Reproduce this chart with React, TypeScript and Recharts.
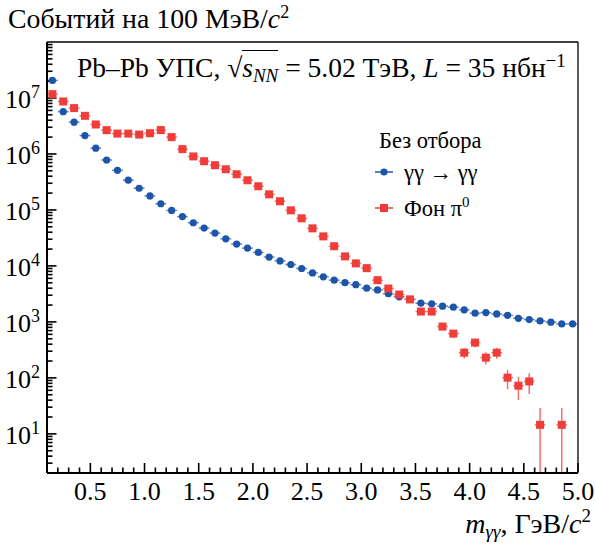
import React from 'react';
import { ScatterChart, Scatter, XAxis, YAxis, ErrorBar, ReferenceLine } from 'recharts';

const SERIF = '"Liberation Serif", "Times New Roman", serif';
const BLUE = '#1d55a8';
const RED = '#ef3d3a';

// bin centres, 100 MeV/c^2 wide
const massBins = [
  0.15, 0.25, 0.35, 0.45, 0.55, 0.65, 0.75, 0.85, 0.95, 1.05,
  1.15, 1.25, 1.35, 1.45, 1.55, 1.65, 1.75, 1.85, 1.95, 2.05,
  2.15, 2.25, 2.35, 2.45, 2.55, 2.65, 2.75, 2.85, 2.95, 3.05,
  3.15, 3.25, 3.35, 3.45, 3.55, 3.65, 3.75, 3.85, 3.95, 4.05,
  4.15, 4.25, 4.35, 4.45, 4.55, 4.65, 4.75, 4.85, 4.95,
];

// γγ → γγ signal
const ggCounts = [
  2.06e7, 5.7e6, 3.7e6, 2.13e6, 1.27e6, 7.8e5, 5.1e5, 3.4e5, 2.44e5, 1.78e5,
  1.29e5, 9.8e4, 7.6e4, 5.9e4, 4.75e4, 3.86e4, 3.05e4, 2.46e4, 2.08e4, 1.74e4,
  1.44e4, 1.23e4, 1.06e4, 9000, 7500, 6400, 5570, 5020, 4630, 4000,
  3720, 3190, 2810, 2540, 2160, 2100, 1910, 1830, 1640, 1430,
  1470, 1390, 1310, 1160, 1100, 1040, 990, 920, 920,
];

// π0 background (empty bins are null)
const pi0Counts = [
  1.17e7, 8.66e6, 6.59e6, 4.8e6, 3.36e6, 2.66e6, 2.31e6, 2.31e6, 2.22e6, 2.35e6,
  2.67e6, 2.0e6, 1.22e6, 9.04e5, 7.42e5, 6.29e5, 5.33e5, 4.34e5, 3.39e5, 2.65e5,
  1.9e5, 1.43e5, 9.84e4, 7.08e4, 4.69e4, 3.37e4, 2.25e4, 1.48e4, 1.11e4, 9120,
  5560, 3950, 3080, 2520, 1530, 1530, 826, 618, 282, 427,
  230, 282, 101, 72.5, 86.5, 14.5, null, 14.5, null,
];

// statistical errors on the background (0 where too small to show)
const pi0Errors = [
  0, 0, 0, 0, 0, 0, 0, 0, 0, 0,
  0, 0, 0, 0, 0, 0, 0, 0, 0, 0,
  0, 0, 0, 0, 0, 0, 0, 0, 0, 0,
  0, 0, 0, 0, 149, 149, 109, 95, 60, 75,
  57, 62, 38, 32, 35, 14.5, 0, 14.5, 0,
];

const xMajor = [0.5, 1.0, 1.5, 2.0, 2.5, 3.0, 3.5, 4.0, 4.5, 5.0];
const xMajorLabels = ['0.5', '1.0', '1.5', '2.0', '2.5', '3.0', '3.5', '4.0', '4.5', '5.0'];
const yDecades = [1, 2, 3, 4, 5, 6, 7];

const X_MIN = 0.1;
const X_MAX = 5.0;
const Y_MIN = 2;
const Y_MAX = 1e8;
const HALF_BIN = 0.05;

// minor ticks every 0.1 on x, 1..9 x 10^k on y
const xTicks: number[] = [];
for (let i = 2; i <= 50; i++) xTicks.push(i / 10);
const yTicks: number[] = [];
for (let k = 0; k < 8; k++) {
  for (let m = 1; m <= 9; m++) {
    const v = m * Math.pow(10, k);
    if (v > Y_MIN && v < Y_MAX) yTicks.push(v);
  }
}

const isMajorX = (v: number) => xMajor.some((t) => Math.abs(t - v) < 1e-6);
const decadeOf = (v: number) => {
  const exp = Math.round(Math.log10(v));
  return Math.abs(v - Math.pow(10, exp)) < 1e-6 * v && yDecades.includes(exp) ? exp : null;
};

const ggData = massBins.map((m, i) => ({ m, n: ggCounts[i], ex: HALF_BIN }));
const pi0Data = massBins
  .map((m, i) => {
    const n = pi0Counts[i];
    if (n == null) return null;
    const e = pi0Errors[i];
    // bars that run to zero are cut at the bottom of the log axis
    return { m, n, ex: HALF_BIN, ey: [Math.min(e, n - Y_MIN), e] };
  })
  .filter(Boolean);

// tick marks sit on the frame and point inward, ROOT style
const xTickMarks = xTicks.map((v) => ({ m: v, n: Y_MIN, major: isMajorX(v) }));
const yTickMarks = yTicks.map((v) => ({ m: X_MIN, n: v, major: decadeOf(v) != null }));

const XTickMark = (p: any) => {
  const major = p.payload ? p.payload.major : p.major;
  const len = major ? 9 : 4.5;
  return <rect x={p.cx - 0.8} y={p.cy - len - 1} width={1.6} height={len} fill="#000" />;
};
const YTickMark = (p: any) => {
  const major = p.payload ? p.payload.major : p.major;
  const len = major ? 8.5 : 4.5;
  return <rect x={p.cx + 1} y={p.cy - 0.8} width={len} height={1.6} fill="#000" />;
};

const MassTick = ({ x, y, payload }: any) => {
  const idx = xMajor.findIndex((t) => Math.abs(t - payload.value) < 1e-6);
  if (idx < 0) return <g />;
  return (
    <text x={x} y={y + 27} textAnchor="middle" fontFamily={SERIF} fontSize={26} fill="#000">
      {xMajorLabels[idx]}
    </text>
  );
};

const CountTick = ({ x, y, payload }: any) => {
  const exp = decadeOf(payload.value);
  if (exp == null) return <g />;
  return (
    <text x={x - 7} y={y + 10} textAnchor="end" fontFamily={SERIF} fontSize={26} fill="#000">
      10<tspan dy={-10} fontSize={18}>{exp}</tspan>
    </text>
  );
};

const GGDot = ({ cx, cy }: any) => <circle cx={cx} cy={cy} r={3.6} fill={BLUE} />;
const Pi0Square = ({ cx, cy }: any) => (
  <rect x={cx - 4} y={cy - 4} width={8} height={8} fill={RED} />
);

const legendItems = [
  { name: 'γγ → γγ', color: BLUE, square: false },
  { name: 'Фон π', sup: '0', color: RED, square: true },
];

export default function App() {
  return (
    <div style={{ position: 'absolute', left: 0, top: 0, width: 595, height: 546, background: '#fff' }}>
      <ScatterChart width={595} height={546} margin={{ top: 42, right: 17, bottom: 0, left: 0 }}>
        <XAxis
          type="number"
          dataKey="m"
          domain={[X_MIN, X_MAX]}
          ticks={xTicks}
          interval={0}
          height={73}
          tickSize={0}
          tickMargin={0}
          tickLine={false}
          tick={<MassTick />}
          axisLine={{ stroke: '#000', strokeWidth: 2 }}
        />
        <YAxis
          type="number"
          dataKey="n"
          scale="log"
          domain={[Y_MIN, Y_MAX]}
          ticks={yTicks}
          interval={0}
          width={47}
          tickSize={0}
          tickMargin={0}
          tickLine={false}
          tick={<CountTick />}
          axisLine={{ stroke: '#000', strokeWidth: 2 }}
          allowDataOverflow
        />
        <ReferenceLine y={Y_MAX} stroke="#000" strokeWidth={1.3} />
        <ReferenceLine x={X_MAX} stroke="#000" strokeWidth={1.3} />
        <Scatter data={xTickMarks} shape={XTickMark} legendType="none" isAnimationActive={false} />
        <Scatter data={yTickMarks} shape={YTickMark} legendType="none" isAnimationActive={false} />
        <Scatter data={ggData} shape={<GGDot />} isAnimationActive={false}>
          <ErrorBar dataKey="ex" direction="x" width={0} stroke={BLUE} strokeOpacity={0.7} strokeWidth={1.5} />
        </Scatter>
        <Scatter data={pi0Data} shape={<Pi0Square />} isAnimationActive={false}>
          <ErrorBar dataKey="ex" direction="x" width={0} stroke={RED} strokeOpacity={0.7} strokeWidth={1.5} />
          <ErrorBar dataKey="ey" direction="y" width={0} stroke={RED} strokeOpacity={0.75} strokeWidth={1.5} />
        </Scatter>
      </ScatterChart>

      <div style={{ position: 'absolute', left: 8, top: 5, fontFamily: SERIF, fontSize: 27.8, lineHeight: '27.8px', whiteSpace: 'nowrap' }}>
        Событий на 100 МэВ/<i>c</i><sup style={{ fontSize: 18, verticalAlign: 10, lineHeight: 0 }}>2</sup>
      </div>

      <div style={{ position: 'absolute', left: 77, top: 54, fontFamily: SERIF, fontSize: 27.5, lineHeight: '27.5px', whiteSpace: 'nowrap' }}>
        Pb–Pb УПС, √<span style={{ borderTop: '1px solid #000', paddingTop: 1 }}><i>s</i><sub style={{ fontSize: 19, verticalAlign: -5, lineHeight: 0 }}><i>NN</i></sub></span> = 5.02 ТэВ, <i>L</i> = 35 нбн<sup style={{ fontSize: 19, verticalAlign: 10, lineHeight: 0 }}>−1</sup>
      </div>

      <div style={{ position: 'absolute', right: 4, top: 510, fontFamily: SERIF, fontSize: 28, lineHeight: '28px', whiteSpace: 'nowrap' }}>
        <i>m</i><sub style={{ fontSize: 19, verticalAlign: -5, lineHeight: 0 }}><i>γγ</i></sub>, ГэВ/<i>c</i><sup style={{ fontSize: 19, verticalAlign: 11, lineHeight: 0 }}>2</sup>
      </div>

      <div style={{ position: 'absolute', left: 370, top: 130, fontFamily: SERIF, fontSize: 22.5, lineHeight: '22.5px', whiteSpace: 'nowrap' }}>
        <div style={{ position: 'absolute', left: 9, top: 0 }}>Без отбора</div>
        {legendItems.map((it, i) => (
          <div key={it.name} style={{ position: 'absolute', left: 0, top: 32 + i * 36, height: 22 }}>
            <svg width={30} height={20} style={{ position: 'absolute', left: 0, top: 0 }}>
              <line x1={5} x2={23} y1={10} y2={10} stroke={it.color} strokeWidth={1.5} />
              {it.square ? (
                <rect x={10} y={6} width={8} height={8} fill={it.color} />
              ) : (
                <circle cx={14} cy={10} r={3.6} fill={it.color} />
              )}
            </svg>
            <span style={{ position: 'absolute', left: 34, top: 0 }}>
              {it.name}
              {it.sup && <sup style={{ fontSize: 15, verticalAlign: 9, lineHeight: 0 }}>{it.sup}</sup>}
            </span>
          </div>
        ))}
      </div>
    </div>
  );
}
